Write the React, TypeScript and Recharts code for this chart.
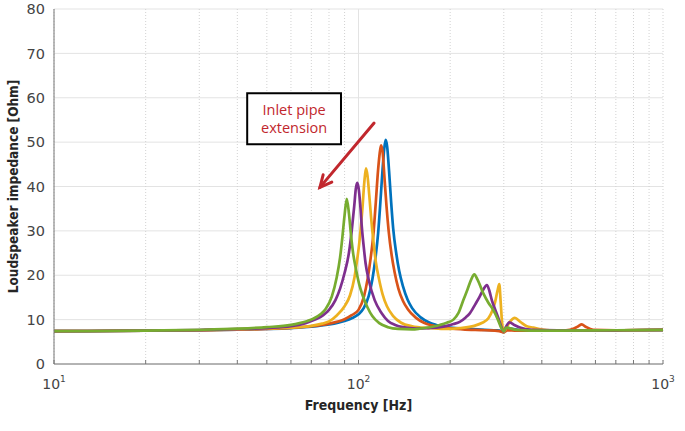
import React from "react";
import {
  LineChart,
  Line,
  XAxis,
  YAxis,
  CartesianGrid,
  ReferenceArea,
  ReferenceLine,
} from "recharts";

// frequency ticks (log axis), impedance ticks
const xTicks = [10, 20, 30, 40, 50, 60, 70, 80, 90, 100, 200, 300, 400, 500, 600, 700, 800, 900, 1000];
const yTicks = [0, 10, 20, 30, 40, 50, 60, 70, 80];

// frequency [Hz] / impedance [Ohm]
const blueF = [10, 20, 30, 40, 50, 60, 70, 80, 90, 95, 100, 104, 108, 111, 113.5, 116, 118, 120, 121.5, 122.8, 124.2, 126, 128, 130, 133, 136, 140, 145, 150, 160, 170, 180, 200, 230, 260, 285, 295, 300, 306, 315, 335, 370, 450, 600, 800, 1000];
const blueZ = [7.4, 7.5, 7.6, 7.75, 7.9, 8.1, 8.4, 8.9, 9.7, 10.3, 11.2, 12.6, 15.3, 19, 23.5, 29.5, 36.5, 44, 48.5, 50.5, 49, 43.5, 36.5, 30.5, 25, 21, 17.5, 14.5, 12.6, 10.5, 9.4, 8.8, 8.2, 7.9, 7.7, 7.6, 7.4, 7.1, 8.2, 8.0, 7.7, 7.6, 7.5, 7.55, 7.6, 7.65];

const orangeF = [10, 20, 30, 40, 50, 60, 70, 80, 90, 95, 100, 104.3, 107.2, 109.6, 112.1, 114, 115.9, 117.4, 118.6, 120, 121.7, 123.6, 125.6, 128.5, 131.4, 135.2, 140, 145, 154.5, 164, 174, 190, 220, 260, 290, 300, 308, 330, 400, 480, 510, 527, 541, 557, 590, 700, 1000];
const orangeZ = [7.4, 7.5, 7.6, 7.75, 7.9, 8.15, 8.5, 9.1, 10.1, 11, 12.2, 15.3, 19.3, 23.8, 29.8, 36.5, 43.5, 47.5, 49.3, 47.8, 42, 35.5, 30, 24.5, 20.7, 17, 14.2, 12.4, 10.4, 9.3, 8.7, 8.2, 7.8, 7.6, 7.4, 7.1, 7.6, 7.5, 7.5, 7.6, 8.0, 8.5, 8.95, 8.4, 7.7, 7.6, 7.7];

const yellowF = [10, 20, 30, 40, 50, 60, 70, 76, 80, 85, 90, 93.8, 97, 98.6, 100.5, 101.6, 103, 104.5, 105.8, 107, 108.5, 110, 112, 114, 116.5, 120, 124, 130, 138, 150, 170, 190, 215, 240, 255, 267, 275, 281, 286, 290, 293, 296, 300, 305, 315, 326, 340, 357, 375, 400, 425, 500, 700, 1000];
const yellowZ = [7.4, 7.5, 7.6, 7.8, 8.0, 8.2, 8.6, 9.1, 9.6, 11, 13, 15.5, 19.5, 22.7, 27, 30.2, 35, 41, 44.1, 42.5, 38, 33, 27.5, 23, 19.5, 15.7, 13, 10.8, 9.3, 8.5, 8.1, 7.9, 8.1, 8.6, 9.3, 10.3, 12, 14, 16.5, 18, 14, 9.5, 7.2, 8, 9.6, 10.4, 9.5, 8.5, 8.2, 7.8, 7.6, 7.6, 7.6, 7.7];

const purpleF = [10, 20, 30, 40, 50, 60, 67, 72, 76.6, 80, 84, 87, 90, 93, 95, 96.8, 98, 99, 100, 101.3, 102.5, 104, 105.5, 108, 113, 119, 125, 132, 140, 155, 170, 185, 195, 205, 215, 225, 232, 242, 250, 257, 264, 269, 274, 281, 288, 294, 300, 305, 313, 325, 339, 370, 450, 700, 1000];
const purpleZ = [7.4, 7.5, 7.65, 7.85, 8.1, 8.5, 9.2, 10, 11, 12.2, 14.4, 17, 20.5, 25, 30, 35.5, 39.5, 40.8, 39.8, 36, 31, 26.5, 22.7, 19, 14.4, 11.5, 9.7, 8.8, 8.3, 8, 8.1, 8.3, 8.6, 9, 9.5, 10.5, 11.4, 13.5, 15.2, 16.8, 17.8, 16.5, 14.4, 12.3, 10.3, 8.5, 7.3, 8.4, 9.4, 8.8, 8.2, 7.7, 7.6, 7.6, 7.7];

const greenF = [10, 20, 30, 40, 50, 60, 64, 68, 71, 75, 78, 81.7, 84.8, 87, 88.5, 90, 91.5, 93, 94.5, 96, 98, 100.5, 103, 107, 111, 117, 125, 135, 150, 160, 175, 185, 195, 205, 213, 221, 228, 235, 240, 246, 257, 267, 277, 287, 295, 300, 305, 312, 330, 400, 700, 1000];
const greenZ = [7.4, 7.5, 7.7, 7.95, 8.3, 8.8, 9.2, 9.7, 10.2, 11.2, 12.4, 15.2, 19.5, 24, 28.5, 33.5, 37.2, 34, 29, 25, 21.5, 18, 15.6, 12.8, 10.8, 9.2, 8.3, 7.9, 7.8, 8, 8.4, 8.8, 9.3, 10, 11.5, 14.4, 16.8, 19.2, 20.2, 19, 15.9, 13.8, 12.2, 10, 8, 7.4, 8.2, 8.1, 7.7, 7.5, 7.6, 7.7];

const toRows = (f: number[], z: number[]) => f.map((v, i) => ({ f: v, z: z[i] }));

const series = [
  { name: "blue", color: "#0072BD", data: toRows(blueF, blueZ) },
  { name: "orange", color: "#D95319", data: toRows(orangeF, orangeZ) },
  { name: "yellow", color: "#EDB120", data: toRows(yellowF, yellowZ) },
  { name: "purple", color: "#7E2F8E", data: toRows(purpleF, purpleZ) },
  { name: "green", color: "#77AC30", data: toRows(greenF, greenZ) },
];

const TICK_FONT = "'DejaVu Sans', sans-serif";
const LABEL_FONT = "'Liberation Sans Narrow', 'DejaVu Sans Condensed', sans-serif";
const RED = "#C1272D";

const isDecade = (v: number) => Math.abs(Math.log10(v) - Math.round(Math.log10(v))) < 1e-6;

function BottomTick({ x, y, payload }: any) {
  const v = payload.value;
  return (
    <g>
      <line x1={x} x2={x} y1={y} y2={y - 4} stroke="#777" />
      {isDecade(v) && (
        <text x={x} y={y + 25} textAnchor="middle" fontSize={14} fill="#444" fontFamily={TICK_FONT}>
          10
          <tspan dy={-7} fontSize={9}>
            {Math.round(Math.log10(v))}
          </tspan>
        </text>
      )}
    </g>
  );
}

function TopTick({ x, y }: any) {
  return <line x1={x} x2={x} y1={y} y2={y + 4} stroke="#999" />;
}

function YLabel({ viewBox }: any) {
  const cy = viewBox.y + viewBox.height / 2;
  return (
    <text
      x={13}
      y={cy}
      transform={`rotate(-90 13 ${cy})`}
      textAnchor="middle"
      dominantBaseline="central"
      fontSize={13.5}
      fontWeight="bold"
      fill="#262626"
      fontFamily={LABEL_FONT}
    >
      Loudspeaker impedance [Ohm]
    </text>
  );
}

function BoxLabel({ viewBox }: any) {
  const cx = viewBox.x + viewBox.width / 2;
  return (
    <g fontFamily="'Open Sans', sans-serif" fontSize={14.5} fill={RED} textAnchor="middle">
      <text x={cx} y={viewBox.y + 22}>Inlet pipe</text>
      <text x={cx} y={viewBox.y + 40}>extension</text>
    </g>
  );
}

function Arrow({ x1, y1, x2, y2 }: any) {
  const a = Math.atan2(y2 - y1, x2 - x1);
  const len = 13;
  const spread = 0.45;
  const p1 = [x2 - len * Math.cos(a - spread), y2 - len * Math.sin(a - spread)];
  const p2 = [x2 - len * Math.cos(a + spread), y2 - len * Math.sin(a + spread)];
  return (
    <g stroke={RED} strokeWidth={3} fill="none" strokeLinecap="round" strokeLinejoin="miter">
      <line x1={x1} y1={y1} x2={x2} y2={y2} />
      <polyline points={`${p1[0]},${p1[1]} ${x2},${y2} ${p2[0]},${p2[1]}`} />
    </g>
  );
}

export default function App() {
  return (
    <div style={{ position: "absolute", left: 0, top: 0, width: 685, height: 431, background: "#fff" }}>
      <LineChart width={685} height={431} margin={{ top: 9, right: 22, bottom: 0, left: 14 }}>
        <CartesianGrid vertical={false} stroke="#e3e3e3" />
        <CartesianGrid horizontal={false} stroke="#d2d2d2" strokeDasharray="1 2" />
        <XAxis
          dataKey="f"
          type="number"
          scale="log"
          domain={[10, 1000]}
          ticks={xTicks}
          allowDataOverflow
          height={67}
          tickSize={0}
          tickMargin={0}
          tickLine={false}
          axisLine={{ stroke: "#777" }}
          tick={<BottomTick />}
          interval={0}
          label={{
            value: "Frequency [Hz]",
            position: "insideBottom",
            offset: 21,
            style: { fontFamily: LABEL_FONT, fontSize: 14, fontWeight: "bold", fill: "#262626" },
          }}
        />
        <XAxis
          xAxisId="top"
          orientation="top"
          dataKey="f"
          type="number"
          scale="log"
          domain={[10, 1000]}
          ticks={xTicks}
          allowDataOverflow
          height={0}
          tickSize={0}
          tickMargin={0}
          tickLine={false}
          axisLine={{ stroke: "#999" }}
          tick={<TopTick />}
          interval={0}
        />
        <YAxis
          type="number"
          domain={[0, 80]}
          ticks={yTicks}
          width={40}
          tickLine={false}
          tickMargin={3}
          axisLine={{ stroke: "#777" }}
          tick={{ fontSize: 14.5, fill: "#444", fontFamily: TICK_FONT }}
          label={<YLabel />}
        />
        <YAxis
          yAxisId="right"
          orientation="right"
          type="number"
          domain={[0, 80]}
          ticks={yTicks}
          width={0}
          tick={false}
          tickLine={false}
          axisLine={{ stroke: "#999" }}
        />
        <ReferenceLine x={100} stroke="#e3e3e3" />
        <ReferenceArea
          x1={43.1}
          x2={87.6}
          y1={49.5}
          y2={61}
          fill="#fff"
          fillOpacity={1}
          stroke="#000"
          strokeWidth={2}
          label={<BoxLabel />}
        />
        <ReferenceLine
          segment={[
            { x: 112.5, y: 54.3 },
            { x: 74.7, y: 39.8 },
          ]}
          shape={<Arrow />}
        />
        {series.map((s) => (
          <Line
            key={s.name}
            data={s.data}
            dataKey="z"
            type="monotone"
            stroke={s.color}
            strokeWidth={2.7}
            dot={false}
            activeDot={false}
            isAnimationActive={false}
          />
        ))}
      </LineChart>
    </div>
  );
}
